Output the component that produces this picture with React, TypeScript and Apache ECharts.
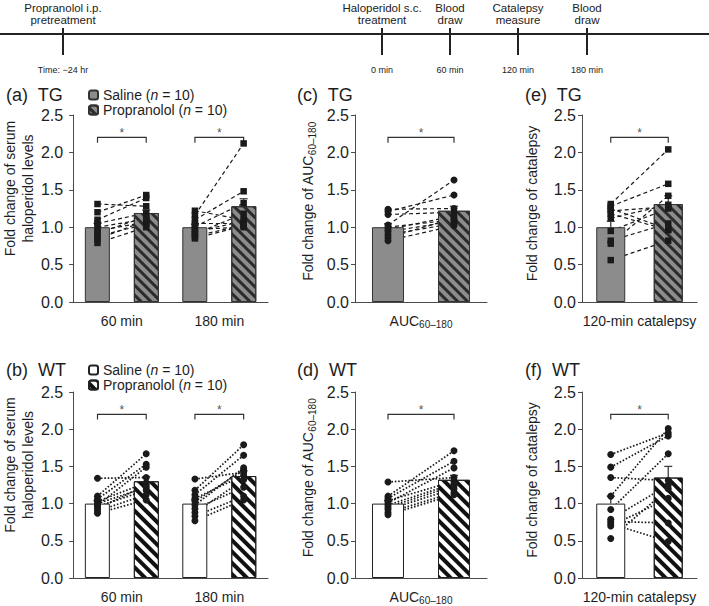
import React, { useEffect, useRef } from 'react';
import * as echarts from 'echarts';

const FONT = '"Liberation Sans", Arial, Helvetica, sans-serif';
const INK = '#1e1e1e';
const AXIS = '#4a4a4a';

// ---------------- timeline ----------------
const timelineEvents = ['Propranolol i.p.\npretreatment', 'Haloperidol s.c.\ntreatment', 'Blood\ndraw', 'Catalepsy\nmeasure', 'Blood\ndraw'];
const timelineTimes = ['Time: \u221224 hr', '0 min', '60 min', '120 min', '180 min'];

// ---------------- categories / groups ----------------
const haloCategories = ['60 min', '180 min'];
const aucCategories = ['AUC60\u2013180'];
const catalepsyCategories = ['120-min catalepsy'];
const groupNames = ['Saline', 'Propranolol'];
const groupN = [10, 10];
const sigLabel = '*';

// ---------------- (a) TG serum haloperidol ----------------
const tgHaloSalineMean = [1.0, 1.0];
const tgHaloSalineSem = [0.05, 0.04];
const tgHaloPropMean = [1.19, 1.28];
const tgHaloPropSem = [0.04, 0.1];
const tgHalo60Saline = [1.31, 1.2, 1.1, 1.05, 1.0, 0.95, 0.92, 0.88, 0.84, 0.79];
const tgHalo60Prop = [1.28, 1.43, 1.39, 1.19, 1.11, 1.07, 1.14, 1.04, 1.09, 1.0];
const tgHalo180Saline = [1.22, 1.16, 1.1, 1.05, 1.01, 0.97, 0.94, 0.91, 0.88, 0.85];
const tgHalo180Prop = [1.1, 2.12, 1.48, 1.05, 1.32, 1.0, 1.08, 1.18, 1.03, 1.02];

// ---------------- (c) TG AUC ----------------
const tgAucSalineMean = [1.0];
const tgAucSalineSem = [0.045];
const tgAucPropMean = [1.22];
const tgAucPropSem = [0.06];
const tgAucSaline = [1.24, 1.21, 1.17, 1.03, 1.0, 0.97, 0.94, 0.9, 0.86, 0.82];
const tgAucProp = [1.25, 1.43, 1.2, 1.63, 1.1, 1.15, 1.08, 1.05, 1.12, 1.02];

// ---------------- (e) TG catalepsy ----------------
const tgCatSalineMean = [1.0];
const tgCatSalineSem = [0.08];
const tgCatPropMean = [1.31];
const tgCatPropSem = [0.11];
const tgCatSaline = [1.31, 1.28, 1.25, 1.22, 1.18, 1.12, 0.95, 0.82, 0.78, 0.56];
const tgCatProp = [2.04, 1.58, 0.97, 1.27, 0.96, 1.3, 1.25, 1.05, 1.42, 0.82];

// ---------------- (b) WT serum haloperidol ----------------
const wtHaloSalineMean = [1.0, 1.0];
const wtHaloSalineSem = [0.04, 0.05];
const wtHaloPropMean = [1.3, 1.37];
const wtHaloPropSem = [0.06, 0.07];
const wtHalo60Saline = [1.34, 1.1, 1.06, 1.03, 1.0, 0.98, 0.96, 0.93, 0.9, 0.87];
const wtHalo60Prop = [1.35, 1.67, 1.53, 1.28, 1.22, 1.49, 1.18, 1.25, 1.12, 1.05];
const wtHalo180Saline = [1.33, 1.18, 1.12, 1.07, 1.03, 0.98, 0.93, 0.88, 0.83, 0.77];
const wtHalo180Prop = [1.42, 1.79, 1.65, 1.38, 1.45, 1.48, 1.22, 1.32, 1.1, 1.05];

// ---------------- (d) WT AUC ----------------
const wtAucSalineMean = [1.0];
const wtAucSalineSem = [0.04];
const wtAucPropMean = [1.32];
const wtAucPropSem = [0.06];
const wtAucSaline = [1.29, 1.1, 1.07, 1.04, 1.01, 0.98, 0.95, 0.92, 0.88, 0.85];
const wtAucProp = [1.35, 1.71, 1.57, 1.3, 1.48, 1.27, 1.24, 1.2, 1.15, 1.12];

// ---------------- (f) WT catalepsy ----------------
const wtCatSalineMean = [1.0];
const wtCatSalineSem = [0.1];
const wtCatPropMean = [1.35];
const wtCatPropSem = [0.15];
const wtCatSaline = [1.66, 1.49, 1.35, 1.1, 0.92, 0.79, 0.76, 0.73, 0.7, 0.53];
const wtCatProp = [1.95, 1.91, 1.31, 2.01, 1.67, 1.25, 0.74, 0.49, 1.07, 1.2];

// ---------------- layout (positions / sizes only) ----------------
const TOP_ROW = { top: 115, height: 187, titleTop: 86, legendTop: 88 };
const BOT_ROW = { top: 392, height: 186, titleTop: 361, legendTop: 363 };
const COL_HALO = { left: 72, width: 196, bw: 25, yOffset: 4, nameGap: 21, namePad: 40, titleLeft: 6 };
const COL_AUC = { left: 355, width: 132, bw: 32, yOffset: 0, nameGap: 38, namePad: 14, titleLeft: 297 };
const COL_CAT = { left: 582, width: 115, bw: 29, yOffset: 0, nameGap: 41, namePad: 10, titleLeft: 525 };
const TIMELINE_X = [63, 382, 450, 518, 587];
const BRACKET_TOP = 2.2;
const BRACKET_FOOT = 2.13;
const STAR_Y = 2.26;

const decalTG = { symbol: 'rect', symbolSize: 1, dashArrayX: [1, 0], dashArrayY: [3, 3.5], rotation: Math.PI / 4, color: '#2b2b2b' };
const decalWT = { symbol: 'rect', symbolSize: 1, dashArrayX: [1, 0], dashArrayY: [3.5, 3.5], rotation: Math.PI / 4, color: '#111111' };

const STYLE = {
  TG: {
    saline: { color: '#8c8c8c', borderColor: '#333', borderWidth: 1 },
    prop: { color: '#8c8c8c', borderColor: '#333', borderWidth: 1, decal: decalTG },
    line: [4, 3],
    lineWidth: 1.2,
  },
  WT: {
    saline: { color: '#ffffff', borderColor: '#222', borderWidth: 1 },
    prop: { color: '#ffffff', borderColor: '#222', borderWidth: 1, decal: decalWT },
    line: [1.6, 1.8],
    lineWidth: 1.7,
  },
};

type Panel = {
  title: string;
  group: 'TG' | 'WT';
  cats: string[];
  salMean: number[];
  salSem: number[];
  propMean: number[];
  propSem: number[];
  salPts: number[][];
  propPts: number[][];
  symbol: string;
  yName: string;
  row: typeof TOP_ROW;
  col: typeof COL_HALO;
};

const panels: Panel[] = [
  { title: '(a)  TG', group: 'TG', cats: haloCategories, salMean: tgHaloSalineMean, salSem: tgHaloSalineSem, propMean: tgHaloPropMean, propSem: tgHaloPropSem, salPts: [tgHalo60Saline, tgHalo180Saline], propPts: [tgHalo60Prop, tgHalo180Prop], symbol: 'rect', yName: 'Fold change of serum\nhaloperidol levels', row: TOP_ROW, col: COL_HALO },
  { title: '(c)  TG', group: 'TG', cats: aucCategories, salMean: tgAucSalineMean, salSem: tgAucSalineSem, propMean: tgAucPropMean, propSem: tgAucPropSem, salPts: [tgAucSaline], propPts: [tgAucProp], symbol: 'circle', yName: 'Fold change of AUC{sub|60\u2013180}', row: TOP_ROW, col: COL_AUC },
  { title: '(e)  TG', group: 'TG', cats: catalepsyCategories, salMean: tgCatSalineMean, salSem: tgCatSalineSem, propMean: tgCatPropMean, propSem: tgCatPropSem, salPts: [tgCatSaline], propPts: [tgCatProp], symbol: 'rect', yName: 'Fold change of catalepsy', row: TOP_ROW, col: COL_CAT },
  { title: '(b)  WT', group: 'WT', cats: haloCategories, salMean: wtHaloSalineMean, salSem: wtHaloSalineSem, propMean: wtHaloPropMean, propSem: wtHaloPropSem, salPts: [wtHalo60Saline, wtHalo180Saline], propPts: [wtHalo60Prop, wtHalo180Prop], symbol: 'circle', yName: 'Fold change of serum\nhaloperidol levels', row: BOT_ROW, col: COL_HALO },
  { title: '(d)  WT', group: 'WT', cats: aucCategories, salMean: wtAucSalineMean, salSem: wtAucSalineSem, propMean: wtAucPropMean, propSem: wtAucPropSem, salPts: [wtAucSaline], propPts: [wtAucProp], symbol: 'circle', yName: 'Fold change of AUC{sub|60\u2013180}', row: BOT_ROW, col: COL_AUC },
  { title: '(f)  WT', group: 'WT', cats: catalepsyCategories, salMean: wtCatSalineMean, salSem: wtCatSalineSem, propMean: wtCatPropMean, propSem: wtCatPropSem, salPts: [wtCatSaline], propPts: [wtCatProp], symbol: 'circle', yName: 'Fold change of catalepsy', row: BOT_ROW, col: COL_CAT },
];

const subRich = { sub: { fontSize: 10, lineHeight: 9, verticalAlign: 'bottom', color: INK, fontFamily: FONT } };

function catFormatter(v: string) {
  const m = /^AUC(.+)$/.exec(v);
  return m ? `AUC{sub|${m[1]}}` : v;
}

function legendFormatter(name: string) {
  const base = name.split(' ')[0];
  const idx = groupNames.indexOf(base);
  return `${base} ({i|n} = ${groupN[idx]})`;
}

function buildOption() {
  const grid: any[] = [];
  const xAxis: any[] = [];
  const yAxis: any[] = [];
  const series: any[] = [];
  const title: any[] = [];

  panels.forEach((p, gi) => {
    const { row, col } = p;
    const n = p.cats.length;
    const catW = col.width / n;
    const gap = catW / (2 * col.bw) - 1;
    const st = STYLE[p.group];
    const xi = gi * 2;
    const vi = gi * 2 + 1;

    grid.push({ left: col.left, top: row.top, width: col.width, height: row.height });
    title.push({ text: p.title, left: col.titleLeft, top: row.titleTop, padding: 0, textStyle: { fontSize: 18, fontWeight: 'normal', color: INK, fontFamily: FONT } });

    xAxis.push({
      type: 'category', gridIndex: gi, data: p.cats,
      axisTick: { show: false },
      axisLine: { lineStyle: { color: AXIS, width: 1 } },
      axisLabel: { fontSize: 14, color: INK, margin: 11, fontFamily: FONT, lineHeight: 16, formatter: catFormatter, rich: subRich },
    });
    xAxis.push({ type: 'value', gridIndex: gi, min: 0, max: n, show: false });

    yAxis.push({
      type: 'value', gridIndex: gi, min: 0, max: 2.5, interval: 0.5, offset: col.yOffset,
      splitLine: { show: false },
      axisLine: { show: true, lineStyle: { color: AXIS, width: 1 } },
      axisTick: { show: true, length: 4, lineStyle: { color: AXIS } },
      axisLabel: { fontSize: 16, color: INK, margin: 6, fontFamily: FONT, formatter: (v: number) => v.toFixed(1) },
      name: p.yName, nameLocation: 'middle', nameRotate: 90, nameGap: col.nameGap,
      nameTextStyle: { fontSize: 14, color: INK, lineHeight: 18, fontFamily: FONT, padding: [0, 0, 0, col.namePad], rich: subRich },
    });

    // bars
    series.push({
      type: 'bar', name: `Saline ${p.group}`, xAxisIndex: xi, yAxisIndex: gi, data: p.salMean,
      barWidth: col.bw, barGap: `${(gap * 100).toFixed(1)}%`, itemStyle: st.saline, silent: true,
    });
    series.push({
      type: 'bar', name: `Propranolol ${p.group}`, xAxisIndex: xi, yAxisIndex: gi, data: p.propMean,
      barWidth: col.bw, barGap: `${(gap * 100).toFixed(1)}%`, itemStyle: st.prop, silent: true,
    });

    // error bars (mean + SEM)
    const errData: number[][] = [];
    p.salMean.forEach((m, i) => errData.push([i + 0.25, m, p.salSem[i]]));
    p.propMean.forEach((m, i) => errData.push([i + 0.75, m, p.propSem[i]]));
    series.push({
      type: 'custom', name: `err-${gi}`, xAxisIndex: vi, yAxisIndex: gi, data: errData, silent: true,
      encode: { x: 0, y: 1 },
      renderItem: (params: any, api: any) => {
        const x = api.value(0), m = api.value(1), s = api.value(2);
        const base = api.coord([x, m]);
        const top = api.coord([x, m + s]);
        const ls = { stroke: '#3c3c3c', lineWidth: 1.3 };
        return {
          type: 'group',
          children: [
            { type: 'line', shape: { x1: base[0], y1: base[1], x2: top[0], y2: top[1] }, style: ls },
            { type: 'line', shape: { x1: top[0] - 4, y1: top[1], x2: top[0] + 4, y2: top[1] }, style: ls },
          ],
        };
      },
    });

    // paired subject lines
    const pairData: any[] = [];
    p.salPts.forEach((arr, i) => {
      arr.forEach((v, k) => pairData.push({ coords: [[i + 0.25, v], [i + 0.75, p.propPts[i][k]]] }));
    });
    series.push({
      type: 'lines', name: `pairs-${gi}`, coordinateSystem: 'cartesian2d', xAxisIndex: vi, yAxisIndex: gi, silent: true,
      data: pairData, lineStyle: { color: '#1a1a1a', width: st.lineWidth, type: st.line, opacity: 1 },
    });

    // points
    const pts: number[][] = [];
    p.salPts.forEach((arr, i) => arr.forEach((v) => pts.push([i + 0.25, v])));
    p.propPts.forEach((arr, i) => arr.forEach((v) => pts.push([i + 0.75, v])));
    series.push({
      type: 'scatter', name: `pts-${gi}`, xAxisIndex: vi, yAxisIndex: gi, data: pts, silent: true,
      symbol: p.symbol, symbolSize: p.symbol === 'rect' ? 6.5 : 7, itemStyle: { color: '#1a1a1a', opacity: 1 },
    });

    // significance brackets
    const brackets = p.cats.map((_, i) => ({
      coords: [[i + 0.25, BRACKET_FOOT], [i + 0.25, BRACKET_TOP], [i + 0.75, BRACKET_TOP], [i + 0.75, BRACKET_FOOT]],
    }));
    series.push({
      type: 'lines', name: `sig-${gi}`, coordinateSystem: 'cartesian2d', polyline: true, xAxisIndex: vi, yAxisIndex: gi, silent: true,
      data: brackets, lineStyle: { color: '#333', width: 1.2, type: 'solid', opacity: 1 },
    });
    series.push({
      type: 'scatter', name: `star-${gi}`, xAxisIndex: vi, yAxisIndex: gi, silent: true,
      data: p.cats.map((_, i) => [i + 0.5, STAR_Y]), symbolSize: 1, itemStyle: { color: 'rgba(0,0,0,0)' },
      label: { show: true, position: 'inside', formatter: sigLabel, fontSize: 12, color: INK, fontFamily: FONT },
    });
  });

  const legendBase = {
    orient: 'vertical', left: 88, itemWidth: 9, itemHeight: 9, itemGap: 1, padding: 0, selectedMode: false,
    formatter: legendFormatter,
    textStyle: { fontSize: 14, lineHeight: 13, color: INK, fontFamily: FONT, rich: { i: { fontStyle: 'italic', fontSize: 14, lineHeight: 13, color: INK, fontFamily: FONT } } },
  };
  const legend = [
    { ...legendBase, top: TOP_ROW.legendTop, data: groupNames.map((g) => `${g} TG`) },
    { ...legendBase, top: BOT_ROW.legendTop, data: groupNames.map((g) => `${g} WT`) },
  ];

  // timeline drawing
  const lineY = 34;
  const graphic: any[] = [
    { type: 'line', shape: { x1: 0, y1: lineY, x2: 709, y2: lineY }, style: { stroke: '#222', lineWidth: 2 } },
  ];
  TIMELINE_X.forEach((x, i) => {
    graphic.push({ type: 'line', shape: { x1: x, y1: 28, x2: x, y2: 55 }, style: { stroke: '#222', lineWidth: 2 } });
    timelineEvents[i].split('\n').forEach((lineText, li) => {
      graphic.push({ type: 'text', x, y: 8 + li * 12, style: { text: lineText, fill: '#222', fontSize: 11.5, fontFamily: FONT, align: 'center', verticalAlign: 'middle' } });
    });
    graphic.push({ type: 'text', x, y: 70, style: { text: timelineTimes[i], fill: '#222', fontSize: 9, fontFamily: FONT, align: 'center', verticalAlign: 'middle' } });
  });

  return {
    animation: false,
    backgroundColor: '#ffffff',
    textStyle: { fontFamily: FONT },
    title, legend, grid, xAxis, yAxis, series, graphic,
  };
}

export default function App() {
  const ref = useRef<HTMLDivElement>(null);
  useEffect(() => {
    if (!ref.current) return;
    const chart = echarts.init(ref.current, undefined, { renderer: 'svg' });
    chart.setOption(buildOption() as any);
    return () => chart.dispose();
  }, []);
  return <div ref={ref} style={{ position: 'fixed', left: 0, top: 0, width: 709, height: 606, background: '#fff' }} />;
}
